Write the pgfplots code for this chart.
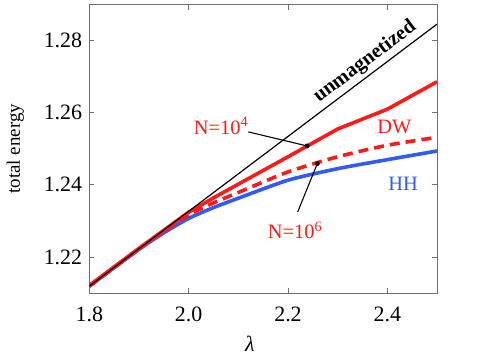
\documentclass[border=0pt]{standalone}
\usepackage{fontspec}
\setmainfont{Liberation Serif}
\usepackage{pgfplots}
\pgfplotsset{compat=1.18}
\definecolor{myred}{RGB}{255,25,25}
\definecolor{myblue}{RGB}{50,90,245}
\definecolor{axgray}{RGB}{110,110,110}
\begin{document}
\begin{tikzpicture}
\useasboundingbox (-89.33bp,-64bp) rectangle (394.67bp,293bp);
\begin{axis}[
  at={(0,0)}, anchor=south west,
  scale only axis, width=347.67bp, height=288.33bp,
  xmin=1.8, xmax=2.5, ymin=1.21, ymax=1.29,
  xtick={1.8,2.0,2.2,2.4}, ytick={1.22,1.24,1.26,1.28},
  /pgf/number format/assume math mode=true,
  xticklabel style={/pgf/number format/fixed,/pgf/number format/fixed zerofill,/pgf/number format/precision=1, font=\fontsize{22}{24}\selectfont, anchor=north, inner sep=0pt, yshift=-14bp},
  yticklabel style={/pgf/number format/fixed,/pgf/number format/fixed zerofill,/pgf/number format/precision=2, font=\fontsize{22}{24}\selectfont, anchor=east, inner sep=0pt, xshift=-7bp},
  scaled y ticks=false,
  tick align=inside, major tick length=5bp,
  every tick/.style={axgray, line width=0.8bp},
  axis line style={axgray, line width=0.9bp},
  xlabel={\itshape λ},
  xlabel style={font=\fontsize{22}{24}\selectfont, at={(axis description cs:0.462,0)}, anchor=base, inner sep=0pt, yshift=-58bp},
  ylabel={total energy},
  ylabel style={font=\fontsize{19}{22}\selectfont, at={(axis description cs:-0.2128,0.5)}, anchor=center, inner sep=0pt},
  clip=true,
]
% HH
\addplot[myblue, line width=3.6bp, smooth, tension=0.4] coordinates {
 (1.8,1.2119) (1.9,1.2221) (1.95,1.2267) (2.0,1.2307) (2.05,1.2337) (2.1,1.2363) (2.2,1.2413) (2.3,1.2445) (2.4,1.2470) (2.5,1.2494)};
% DW N=10^6
\addplot[myred, line width=3.6bp, dash pattern=on 10bp off 6bp, smooth, tension=0.4] coordinates {
 (1.8,1.2119) (1.9,1.2222) (1.95,1.2271) (2.0,1.2317) (2.05,1.2350) (2.1,1.2379) (2.2,1.2436) (2.3,1.2478) (2.4,1.2510) (2.5,1.2532)};
% DW N=10^4
\addplot[myred, line width=3.6bp, line join=round] coordinates {
 (1.8,1.2121) (1.9,1.2224) (1.95,1.2274) (2.0,1.2324) (2.05,1.2364) (2.1,1.2402) (2.2,1.2478) (2.3,1.2555) (2.4,1.2610) (2.5,1.2686)};
% unmagnetized
\addplot[black, line width=1.2bp] coordinates {(1.8,1.2119) (2.5,1.2846)};
% callout lines
\addplot[black, line width=1.1bp] coordinates {(2.1201,1.2547) (2.2385,1.2508)};
\addplot[black, line width=1.1bp] coordinates {(2.2195,1.2325) (2.259,1.2459)};
\addplot[only marks, mark=*, mark size=2.2bp, black] coordinates {(2.2385,1.2508) (2.259,1.2459)};
% labels
\node[myred, font=\fontsize{20.5}{22}\selectfont] at (axis cs:2.0651,1.2563) {N=10\textsuperscript{4}};
\node[myred, font=\fontsize{20.5}{22}\selectfont] at (axis cs:2.2141,1.2274) {N=10\textsuperscript{6}};
\node[myred, font=\fontsize{20.5}{22}\selectfont] at (axis cs:2.4144,1.2560) {DW};
\node[myblue, font=\fontsize{20.5}{22}\selectfont] at (axis cs:2.4316,1.2402) {HH};
\node[black, rotate=37, inner sep=0pt, font=\fontsize{20.5}{22}\selectfont\bfseries] at (axis cs:2.3551,1.2741) {unmagnetized};
\end{axis}
\end{tikzpicture}
\end{document}
